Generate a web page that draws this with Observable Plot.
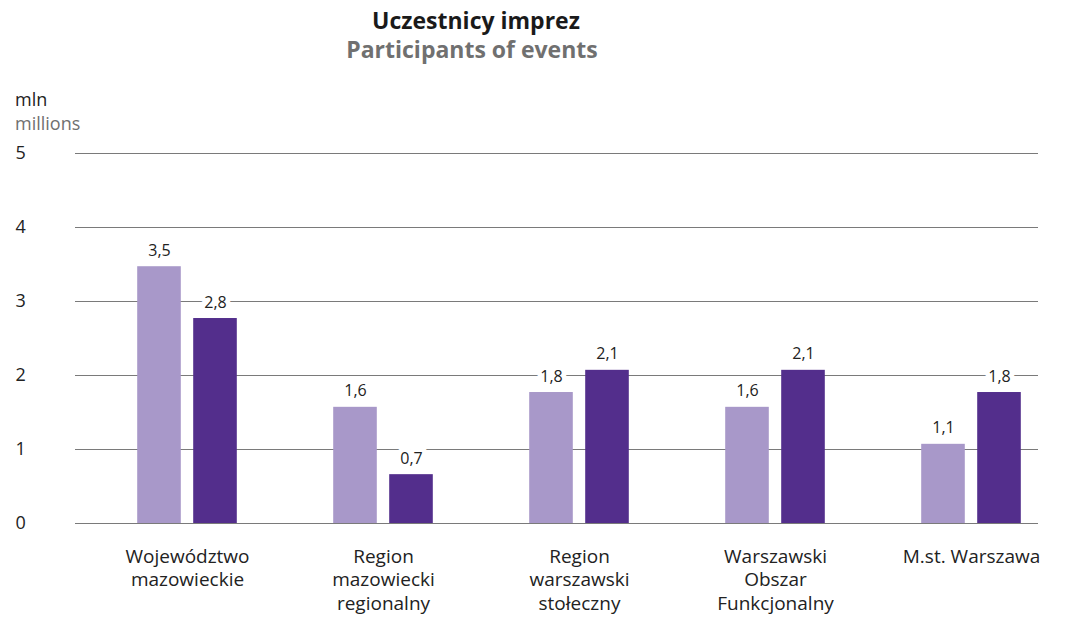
<!DOCTYPE html>
<html>
<head>
<meta charset="utf-8">
<script src="https://cdn.jsdelivr.net/npm/d3@7"></script>
<script src="https://cdn.jsdelivr.net/npm/@observablehq/plot@0.6"></script>
<style>
  body { margin: 0; background: #fff; font-family: "Open Sans", sans-serif; }
  #wrap { position: relative; width: 1073px; height: 617px; }
  .t { position: absolute; white-space: nowrap; }
  #title { left: 0; width: 952px; text-align: center; top: 4px; font-size: 23px; font-weight: bold; color: #1a1a1a; }
  #subtitle { left: 0; width: 944px; text-align: center; top: 33px; font-size: 23px; font-weight: bold; color: #707070; }
  #unit1 { left: 15px; top: 87px; font-size: 18px; color: #222; }
  #unit2 { left: 15px; top: 111px; font-size: 18px; color: #707070; }
</style>
</head>
<body>
<div id="wrap">
  <div class="t" id="title">Uczestnicy imprez</div>
  <div class="t" id="subtitle">Participants of events</div>
  <div class="t" id="unit1">mln</div>
  <div class="t" id="unit2">millions</div>
</div>
<script>
const categories = ["Województwo\nmazowieckie", "Region\nmazowiecki\nregionalny", "Region\nwarszawski\nstołeczny", "Warszawski\nObszar\nFunkcjonalny", "M.st. Warszawa"];
const seriesA = [3.47, 1.57, 1.77, 1.57, 1.07];
const seriesB = [2.77, 0.66, 2.07, 2.07, 1.77];
const yTicks = [0, 1, 2, 3, 4, 5];

const dataA = categories.map((c, i) => ({cat: c, v: seriesA[i]}));
const dataB = categories.map((c, i) => ({cat: c, v: seriesB[i]}));
const fmt = v => v.toFixed(1).replace(".", ",");

const chart = Plot.plot({
  width: 1073,
  height: 617,
  marginLeft: 75,
  marginRight: 35,
  marginTop: 153,
  marginBottom: 94,
  style: {fontFamily: "'Open Sans', sans-serif", fontSize: "16px", color: "#222", background: "transparent"},
  x: {domain: categories, range: [88, 1070], padding: 0},
  y: {domain: [0, 5], ticks: yTicks},
  marks: [
    Plot.ruleY(yTicks, {stroke: "#7a7a7a", strokeWidth: 1}),
    Plot.barY(dataA, {x: "cat", y: "v", fill: "#a898c9", insetLeft: 48.2, insetRight: 104.2}),
    Plot.barY(dataB, {x: "cat", y: "v", fill: "#532e8c", insetLeft: 104.2, insetRight: 48.2}),
    Plot.text(dataA, {x: "cat", y: "v", text: d => fmt(d.v), dx: -28, dy: -11, lineAnchor: "bottom", fill: "#222", stroke: "white", strokeWidth: 10, fontSize: 16}),
    Plot.text(dataB, {x: "cat", y: "v", text: d => fmt(d.v), dx: 28, dy: -11, lineAnchor: "bottom", fill: "#222", stroke: "white", strokeWidth: 10, fontSize: 16}),
    Plot.axisY({ticks: yTicks, tickFormat: d => String(d), tickSize: 0, tickPadding: 0, textAnchor: "start", dx: -60, fontSize: 18, label: null, fill: "#222"}),
    Plot.axisX({tickSize: 0, tickPadding: 22, fontSize: 19, lineHeight: 1.26, label: null, fill: "#222"})
  ]
});
document.getElementById("wrap").prepend(chart);
chart.style.position = "absolute";
chart.style.left = "0";
chart.style.top = "0";
</script>
</body>
</html>
